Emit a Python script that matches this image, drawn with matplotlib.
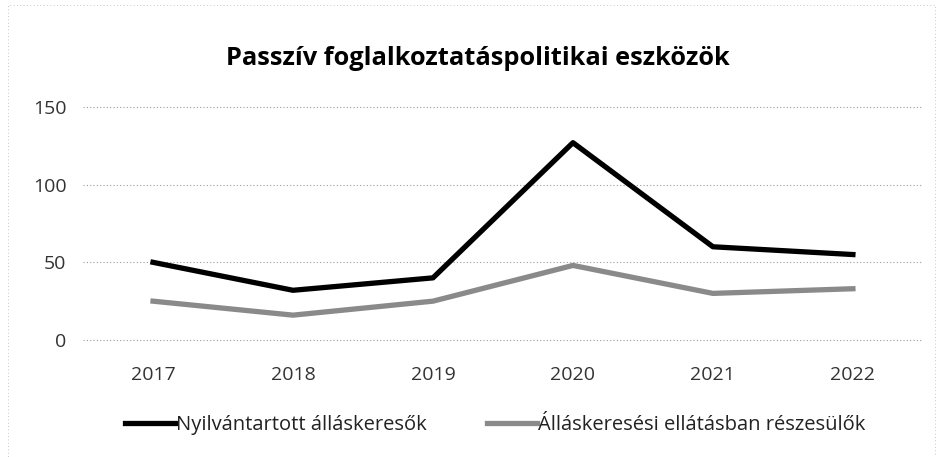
import matplotlib.pyplot as plt
from matplotlib.patches import Rectangle

# Data
years = ['2017', '2018', '2019', '2020', '2021', '2022']
nyilvantartott = [50, 32, 40, 127, 60, 55]
ellatasban = [25, 16, 25, 48, 30, 33]
y_ticks = [0, 50, 100, 150]

plt.rcParams['font.family'] = ['Open Sans', 'DejaVu Sans']

fig = plt.figure(figsize=(9.36, 4.57), dpi=100)
ax = fig.add_axes([0.0887, 0.256, 0.8973, 0.51])

x = range(len(years))
ax.plot(x, nyilvantartott, color='black', linewidth=3.8,
        label='Nyilvántartott álláskeresők')
ax.plot(x, ellatasban, color='#8a8a8a', linewidth=3.8,
        label='Álláskeresési ellátásban részesülők')

ax.set_xlim(-0.5, len(years) - 0.5)
ax.set_ylim(0, 150)
ax.set_yticks(y_ticks)
ax.set_xticks(list(x))
ax.set_xticklabels(years)
ax.tick_params(axis='both', length=0, labelsize=14, colors='#333333')
ax.tick_params(axis='y', pad=12)
ax.tick_params(axis='x', pad=19)

ax.grid(axis='y', color='#9a9a9a', linestyle=(0, (1, 2)), linewidth=0.8)
for gl in ax.get_ygridlines():
    gl.set_clip_on(False)
ax.set_axisbelow(True)
for s in ax.spines.values():
    s.set_visible(False)

fig.text(0.511, 0.872, 'Passzív foglalkoztatáspolitikai eszközök',
         ha='center', va='center', fontsize=18.3, fontweight='bold')

fig.legend(loc='center', bbox_to_anchor=(0.529, 0.07), ncol=2, frameon=False,
           fontsize=14.5, handlelength=2.5, handletextpad=0.05,
           columnspacing=3.0, labelcolor='#222222')

# faint dotted frame of the scanned chart
fig.patches.append(Rectangle((0.009, 0.0), 0.99, 0.99, transform=fig.transFigure,
                             fill=False, edgecolor='#b5b5b5', linewidth=0.6,
                             linestyle=(0, (1, 3))))

fig.savefig('out.png', dpi=100)
